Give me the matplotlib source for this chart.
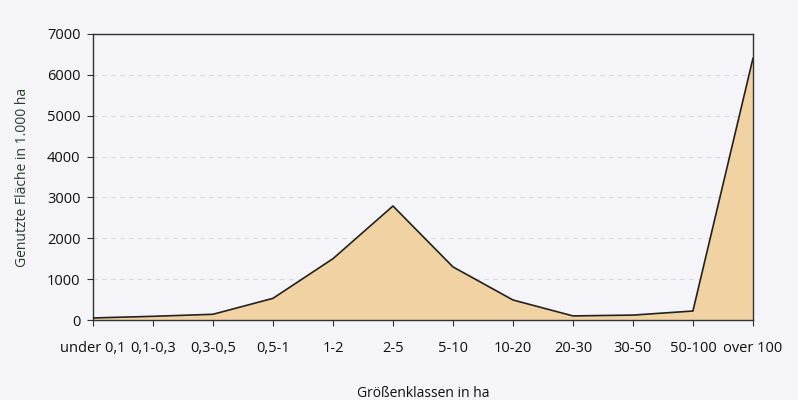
import numpy as np
import matplotlib.pyplot as plt

plt.rcParams['font.family'] = ['Open Sans', 'DejaVu Sans']

classes = ["under 0,1", "0,1-0,3", "0,3-0,5", "0,5-1", "1-2", "2-5", "5-10",
           "10-20", "20-30", "30-50", "50-100", "over 100"]
area = [50, 90, 140, 530, 1500, 2790, 1300, 490, 100, 120, 220, 6400]

fig = plt.figure(figsize=(7.98, 4.0), dpi=100)
fig.patch.set_facecolor('#f4f4f9')
ax = fig.add_axes([0.1165, 0.2, 0.827, 0.715])
ax.set_facecolor('#f4f4f9')

x = np.arange(len(classes))
ax.fill_between(x, area, 0, color='#f1d3a3', zorder=2)
ax.plot(x, area, color='#222222', lw=1.2, zorder=3)

ax.set_xlim(0, len(classes) - 1)
ax.set_ylim(0, 7000)
ax.set_yticks(range(0, 7001, 1000))
ax.set_xticks(x)
ax.set_xticklabels(classes)
ax.yaxis.grid(True, ls=(0, (4, 4)), color='#d8d8e0', lw=0.8, zorder=1)

for s in ax.spines.values():
    s.set_color('#333333')
    s.set_linewidth(1.0)
ax.tick_params(axis='both', labelsize=10.5, color='#333333', length=4, labelcolor='#111111')
ax.tick_params(axis='y', pad=5)
ax.tick_params(axis='x', pad=11)

ax.set_xlabel("Größenklassen in ha", fontsize=10, labelpad=22, color='#111111')
ax.set_ylabel("Genutzte Fläche in 1.000 ha", fontsize=10, color='#2a3d2a', labelpad=12)

fig.savefig("out.png", dpi=100, facecolor=fig.get_facecolor())
